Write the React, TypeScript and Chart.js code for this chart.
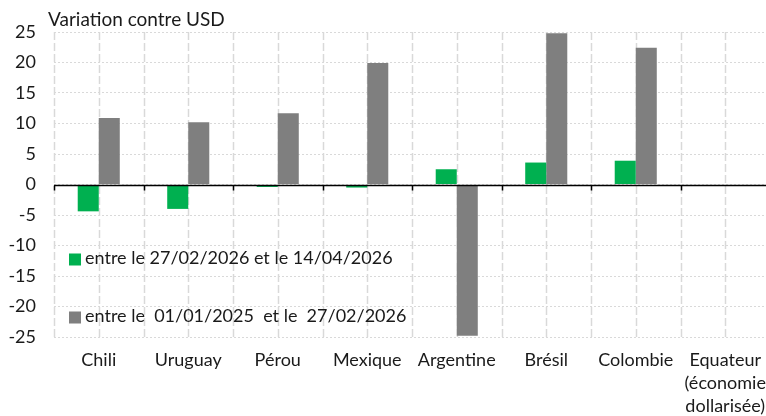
import React, { useEffect, useRef } from "react";
import { Chart, registerables } from "chart.js";

Chart.register(...registerables);

const categories: (string | string[])[] = [
  "Chili",
  "Uruguay",
  "Pérou",
  "Mexique",
  "Argentine",
  "Brésil",
  "Colombie",
  ["Equateur", "(économie", "dollarisée)"],
];
const recentLabel = "entre le 27/02/2026 et le 14/04/2026";
const longLabel = "entre le  01/01/2025  et le  27/02/2026";
const recentValues = [-4.4, -4.0, -0.4, -0.5, 2.5, 3.6, 3.9, 0];
const longValues = [10.9, 10.2, 11.7, 19.9, -24.8, 24.8, 22.4, 0];
const yTicks = [-25, -20, -15, -10, -5, 0, 5, 10, 15, 20, 25];
const titleText = "Variation contre USD";

const GREEN = "#00B050";
const GRAY = "#7F7F7F";
const FONT = "Lato, 'Noto Sans', sans-serif";
const TEXT = "#1a1a1a";

const decorPlugin = {
  id: "decor",
  beforeDatasetsDraw(chart: any) {
    const { ctx, chartArea, scales } = chart;
    const x = scales.x;
    const n = categories.length;
    const half = (x.getPixelForValue(1) - x.getPixelForValue(0)) / 2;
    ctx.save();
    ctx.strokeStyle = "#d9d9d9";
    ctx.lineWidth = 1.5;
    ctx.setLineDash([8, 3]);
    for (let i = 0; i < n; i++) {
      const c = x.getPixelForValue(i);
      for (const px of [c - half, c]) {
        ctx.beginPath();
        ctx.moveTo(Math.round(px) + 0.5, chartArea.top);
        ctx.lineTo(Math.round(px) + 0.5, chartArea.bottom);
        ctx.stroke();
      }
    }
    ctx.restore();
  },
  afterDatasetsDraw(chart: any) {
    const { ctx, chartArea, scales } = chart;
    const x = scales.x;
    const y = scales.y;
    const n = categories.length;
    const half = (x.getPixelForValue(1) - x.getPixelForValue(0)) / 2;
    const y0 = Math.round(y.getPixelForValue(0)) + 0.5;
    ctx.save();
    ctx.strokeStyle = "#000";
    ctx.lineWidth = 1.5;
    ctx.beginPath();
    ctx.moveTo(chartArea.left, y0);
    ctx.lineTo(chartArea.right, y0);
    ctx.stroke();
    for (let i = 0; i <= n; i++) {
      const px = Math.round(x.getPixelForValue(0) - half + i * 2 * half) + 0.5;
      ctx.beginPath();
      ctx.moveTo(px, y0);
      ctx.lineTo(px, y0 + 5);
      ctx.stroke();
    }
    ctx.restore();
  },
  afterDraw(chart: any) {
    const { ctx, chartArea } = chart;
    ctx.save();
    ctx.fillStyle = TEXT;
    ctx.font = `19px ${FONT}`;
    ctx.textBaseline = "alphabetic";
    ctx.textAlign = "left";
    ctx.fillText(titleText, 48, 26);
    const items = [
      { color: GREEN, text: recentLabel, sq: 221.5, base: 232 },
      { color: GRAY, text: longLabel, sq: 279.5, base: 290 },
    ];
    ctx.font = `18px ${FONT}`;
    for (const it of items) {
      ctx.fillStyle = it.color;
      ctx.fillRect(chartArea.left + 15, chartArea.top + it.sq, 12, 12);
      ctx.fillStyle = TEXT;
      ctx.fillText(it.text, chartArea.left + 31, chartArea.top + it.base);
    }
    ctx.restore();
  },
};

export default function App() {
  const ref = useRef<HTMLCanvasElement>(null);
  useEffect(() => {
    document.body.style.margin = "0";
    const chart = new Chart(ref.current!, {
      type: "bar",
      data: {
        labels: categories,
        datasets: [
          {
            label: recentLabel,
            data: recentValues,
            backgroundColor: GREEN,
            categoryPercentage: 0.47,
            barPercentage: 1,
          },
          {
            label: longLabel,
            data: longValues,
            backgroundColor: GRAY,
            categoryPercentage: 0.47,
            barPercentage: 1,
          },
        ],
      },
      options: {
        responsive: false,
        animation: false,
        devicePixelRatio: 1,
        layout: { padding: { top: 32, right: 10, left: 0, bottom: 0 } },
        plugins: {
          legend: { display: false },
          tooltip: { enabled: false },
          title: { display: false },
        },
        scales: {
          x: {
            grid: { display: false, drawTicks: false },
            border: { display: false },
            ticks: {
              color: TEXT,
              font: { family: FONT, size: 18, lineHeight: "23px" },
              padding: 12,
              maxRotation: 0,
              autoSkip: false,
            },
            afterFit(s: any) {
              s.height = 79;
            },
          },
          y: {
            min: -25,
            max: 25,
            afterBuildTicks(s: any) {
              s.ticks = yTicks.map((v) => ({ value: v }));
            },
            grid: { color: "#d9d9d9", lineWidth: 1, drawTicks: false },
            border: { display: false, dash: [2, 2] },
            ticks: {
              color: TEXT,
              font: { family: FONT, size: 18 },
              padding: 18,
            },
            afterFit(s: any) {
              s.width = 54;
            },
          },
        },
      },
      plugins: [decorPlugin],
    });
    return () => chart.destroy();
  }, []);
  return (
    <div style={{ width: 766, height: 416, overflow: "hidden" }}>
      <canvas ref={ref} width={780} height={416} style={{ width: 780, height: 416, display: "block" }} />
    </div>
  );
}
